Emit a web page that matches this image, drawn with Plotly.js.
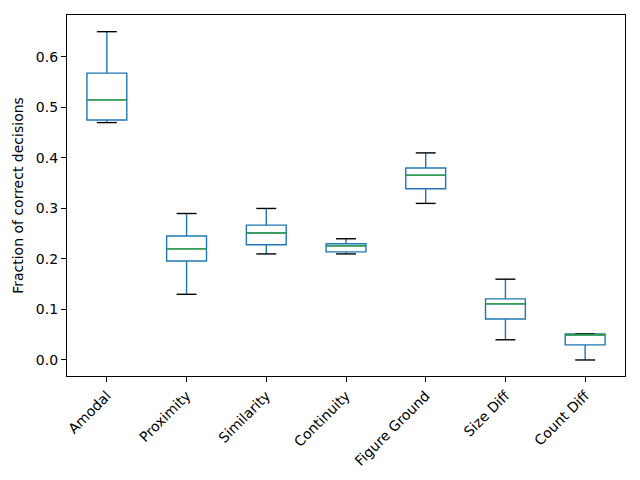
<!DOCTYPE html>
<html><head><meta charset="utf-8">
<script src="https://cdn.plot.ly/plotly-3.0.1.min.js"></script>
<style>html,body{margin:0;padding:0;background:#fff}#c{width:640px;height:480px}</style>
</head><body><div id="c"></div>
<script>
const categories = ["Amodal","Proximity","Similarity","Continuity","Figure Ground","Size Diff","Count Diff"];
const lowerWhisker = [0.47, 0.13, 0.21, 0.21, 0.31, 0.04, 0.00];
const q1Values     = [0.475, 0.196, 0.228, 0.214, 0.339, 0.081, 0.03];
const medianValues = [0.515, 0.22, 0.2515, 0.226, 0.366, 0.111, 0.05];
const q3Values     = [0.568, 0.2455, 0.267, 0.23, 0.38, 0.121, 0.0515];
const upperWhisker = [0.65, 0.29, 0.30, 0.24, 0.41, 0.16, 0.0515];
const yTicks = [0, 0.1, 0.2, 0.3, 0.4, 0.5, 0.6];

const pos = categories.map((_, i) => i);
const boxW = 0.5, capW = 0.25;

function segs(values, half) {
  const xs = [], ys = [];
  values.forEach((v, i) => { xs.push(i - half, i + half, null); ys.push(v, v, null); });
  return {xs, ys};
}
const caps = (() => {
  const a = segs(lowerWhisker, capW / 2), b = segs(upperWhisker, capW / 2);
  return {xs: a.xs.concat(b.xs), ys: a.ys.concat(b.ys)};
})();
const meds = segs(medianValues, boxW / 2);

const data = [
  {type: 'box', x: pos, q1: q1Values, median: medianValues, q3: q3Values,
   lowerfence: lowerWhisker, upperfence: upperWhisker,
   width: boxW, whiskerwidth: 0, fillcolor: 'rgba(0,0,0,0)',
   line: {color: '#1f77b4', width: 1.4}, boxpoints: false, hoverinfo: 'y', showlegend: false},
  {type: 'scatter', mode: 'lines', x: caps.xs, y: caps.ys,
   line: {color: '#000000', width: 1.4}, showlegend: false, hoverinfo: 'skip'},
  {type: 'scatter', mode: 'lines', x: meds.xs, y: meds.ys,
   line: {color: '#2ca02c', width: 1.3}, showlegend: false, hoverinfo: 'skip'}
];

const layout = {
  width: 640, height: 480,
  margin: {l: 67, r: 15, t: 15, b: 104},
  paper_bgcolor: '#fff', plot_bgcolor: '#fff',
  font: {family: 'DejaVu Sans', size: 14, color: '#000'},
  showlegend: false,
  xaxis: {range: [-0.5, 6.5], tickvals: pos, ticktext: categories, tickangle: -45,
    showgrid: false, zeroline: false, showline: true, mirror: true, linecolor: '#000', linewidth: 1.1,
    ticks: 'outside', ticklen: 5, tickcolor: '#000', tickfont: {size: 14}},
  yaxis: {range: [-0.0317, 0.683], tickvals: yTicks, tickformat: '.1f',
    showgrid: false, zeroline: false, showline: true, mirror: true, linecolor: '#000', linewidth: 1.1,
    ticks: 'outside', ticklen: 5, tickcolor: '#000', tickfont: {size: 14},
    title: {text: 'Fraction of correct decisions', font: {size: 14}, standoff: 8}}
};
Plotly.newPlot('c', data, layout, {displayModeBar: false, staticPlot: true});
</script></body></html>
